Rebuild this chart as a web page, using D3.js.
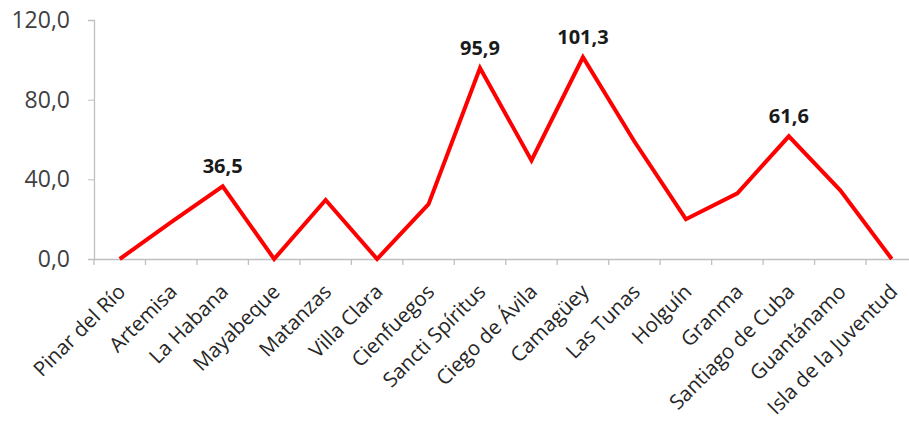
<!DOCTYPE html>
<html><head><meta charset="utf-8">
<script src="https://cdn.jsdelivr.net/npm/d3@7"></script>
<style>body{margin:0;background:#fff;overflow:hidden}</style>
</head><body>
<svg id="c" width="909" height="426"></svg>
<script>
const categories = ["Pinar del Río","Artemisa","La Habana","Mayabeque","Matanzas","Villa Clara","Cienfuegos","Sancti Spíritus","Ciego de Ávila","Camagüey","Las Tunas","Holguín","Granma","Santiago de Cuba","Guantánamo","Isla de la Juventud"];
const values = [0, 18.5, 36.5, 0, 29.6, 0, 27.5, 95.9, 49.5, 101.3, 59, 20, 33, 61.6, 34.5, 0];
const labeled = ["La Habana","Sancti Spíritus","Camagüey","Santiago de Cuba"];
const yTicks = [0, 40, 80, 120];

const svg = d3.select("#c");
const font = "'Open Sans', sans-serif";
const x = d3.scaleBand().domain(categories).range([94, 917.5]);
const y = d3.scaleLinear().domain([0, 120]).range([259, 20]);
const fmt = v => d3.format(".1f")(v).replace(".", ",");

// y axis
const ya = svg.append("g").attr("transform","translate(94,0)")
  .call(d3.axisLeft(y).tickValues(yTicks).tickSize(6).tickPadding(18).tickFormat(fmt));
ya.select(".domain").attr("stroke","#bfbfbf").attr("stroke-width",1.3);
ya.selectAll(".tick line").attr("stroke","#bfbfbf");
ya.selectAll("text").attr("font-family",font).attr("font-size",23).attr("fill","#404040");

// x axis
const xa = svg.append("g").attr("transform","translate(0,259)")
  .call(d3.axisBottom(x).tickSize(0).tickPadding(0));
xa.select(".domain").attr("stroke","#bfbfbf").attr("stroke-width",1.5);
// boundary ticks
xa.selectAll(".bt").data(categories).enter().append("line")
  .attr("x1", d => x(d)).attr("x2", d => x(d)).attr("y1", 0).attr("y2", 6)
  .attr("stroke","#bfbfbf").attr("stroke-width",1.3);
xa.selectAll(".tick text")
  .attr("font-family",font).attr("font-size",20.5).attr("fill","#262626")
  .attr("text-anchor","end").attr("dy",0)
  .attr("transform","translate(7,34) rotate(-45)");

// line
const line = d3.line().x((d,i) => x(categories[i]) + x.bandwidth()/2).y(d => y(d));
svg.append("path").datum(values).attr("d", line)
  .attr("fill","none").attr("stroke","#ff0000").attr("stroke-width",4).attr("stroke-linejoin","miter");

// labels
svg.selectAll(".lbl").data(categories.map((c,i)=>({c,v:values[i]})).filter(d=>labeled.includes(d.c)))
  .enter().append("text")
  .attr("x", d => x(d.c) + x.bandwidth()/2)
  .attr("y", d => y(d.v) - 13)
  .attr("text-anchor","middle").attr("font-family",font).attr("font-weight","bold")
  .attr("font-size",20).attr("fill","#1a1a1a").text(d => fmt(d.v));
</script>
</body></html>
